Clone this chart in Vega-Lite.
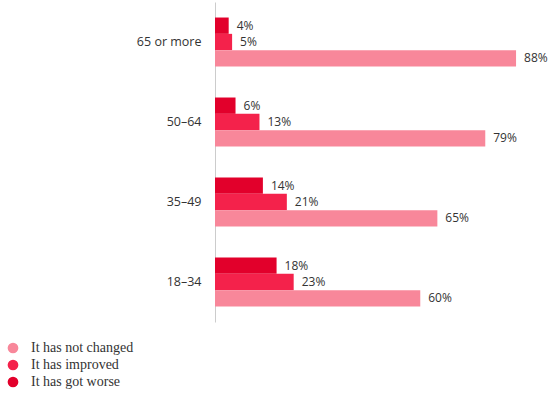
{
  "$schema": "https://vega.github.io/schema/vega-lite/v6.json",
  "autosize": {"type": "none"},
  "padding": {"left": 215, "top": 2, "right": 10, "bottom": 72},
  "width": 325,
  "height": 320,
  "background": "white",
  "config": {"view": {"stroke": null}},
  "data": {
    "values": [
      {"age": "65 or more", "series": "It has got worse", "value": 0.04},
      {"age": "65 or more", "series": "It has improved", "value": 0.05},
      {"age": "65 or more", "series": "It has not changed", "value": 0.88},
      {"age": "50–64", "series": "It has got worse", "value": 0.06},
      {"age": "50–64", "series": "It has improved", "value": 0.13},
      {"age": "50–64", "series": "It has not changed", "value": 0.79},
      {"age": "35–49", "series": "It has got worse", "value": 0.14},
      {"age": "35–49", "series": "It has improved", "value": 0.21},
      {"age": "35–49", "series": "It has not changed", "value": 0.65},
      {"age": "18–34", "series": "It has got worse", "value": 0.18},
      {"age": "18–34", "series": "It has improved", "value": 0.23},
      {"age": "18–34", "series": "It has not changed", "value": 0.60}
    ]
  },
  "encoding": {
    "y": {
      "field": "age",
      "type": "nominal",
      "sort": ["65 or more", "50–64", "35–49", "18–34"],
      "scale": {"paddingInner": 0.3875, "paddingOuter": 0.194},
      "axis": {
        "title": null,
        "ticks": false,
        "domainColor": "#cccccc",
        "domainWidth": 1,
        "labelFont": "Open Sans",
        "labelFontSize": 12.5,
        "labelColor": "#333333",
        "labelPadding": 14
      }
    },
    "yOffset": {
      "field": "series",
      "type": "nominal",
      "sort": ["It has got worse", "It has improved", "It has not changed"],
      "scale": {"paddingInner": 0, "paddingOuter": 0}
    },
    "x": {
      "field": "value",
      "type": "quantitative",
      "scale": {"domain": [0, 0.95]},
      "axis": null
    }
  },
  "layer": [
    {
      "mark": {"type": "bar"},
      "encoding": {
        "color": {
          "field": "series",
          "type": "nominal",
          "scale": {
            "domain": ["It has not changed", "It has improved", "It has got worse"],
            "range": ["#f8879a", "#f4224b", "#e2002b"]
          },
          "legend": {
            "title": null,
            "orient": "none",
            "legendX": -209,
            "legendY": 339,
            "symbolType": "circle",
            "symbolSize": 115,
            "symbolStrokeWidth": 0,
            "labelFont": "Liberation Serif",
            "labelFontSize": 14,
            "labelColor": "#333333",
            "rowPadding": 3,
            "labelOffset": 11
          }
        }
      }
    },
    {
      "mark": {
        "type": "text",
        "align": "left",
        "baseline": "middle",
        "dx": 8,
        "font": "Open Sans",
        "fontSize": 12,
        "color": "#333333"
      },
      "encoding": {
        "text": {"field": "value", "type": "quantitative", "format": ".0%"},
        "detail": {"field": "series"}
      }
    }
  ]
}
